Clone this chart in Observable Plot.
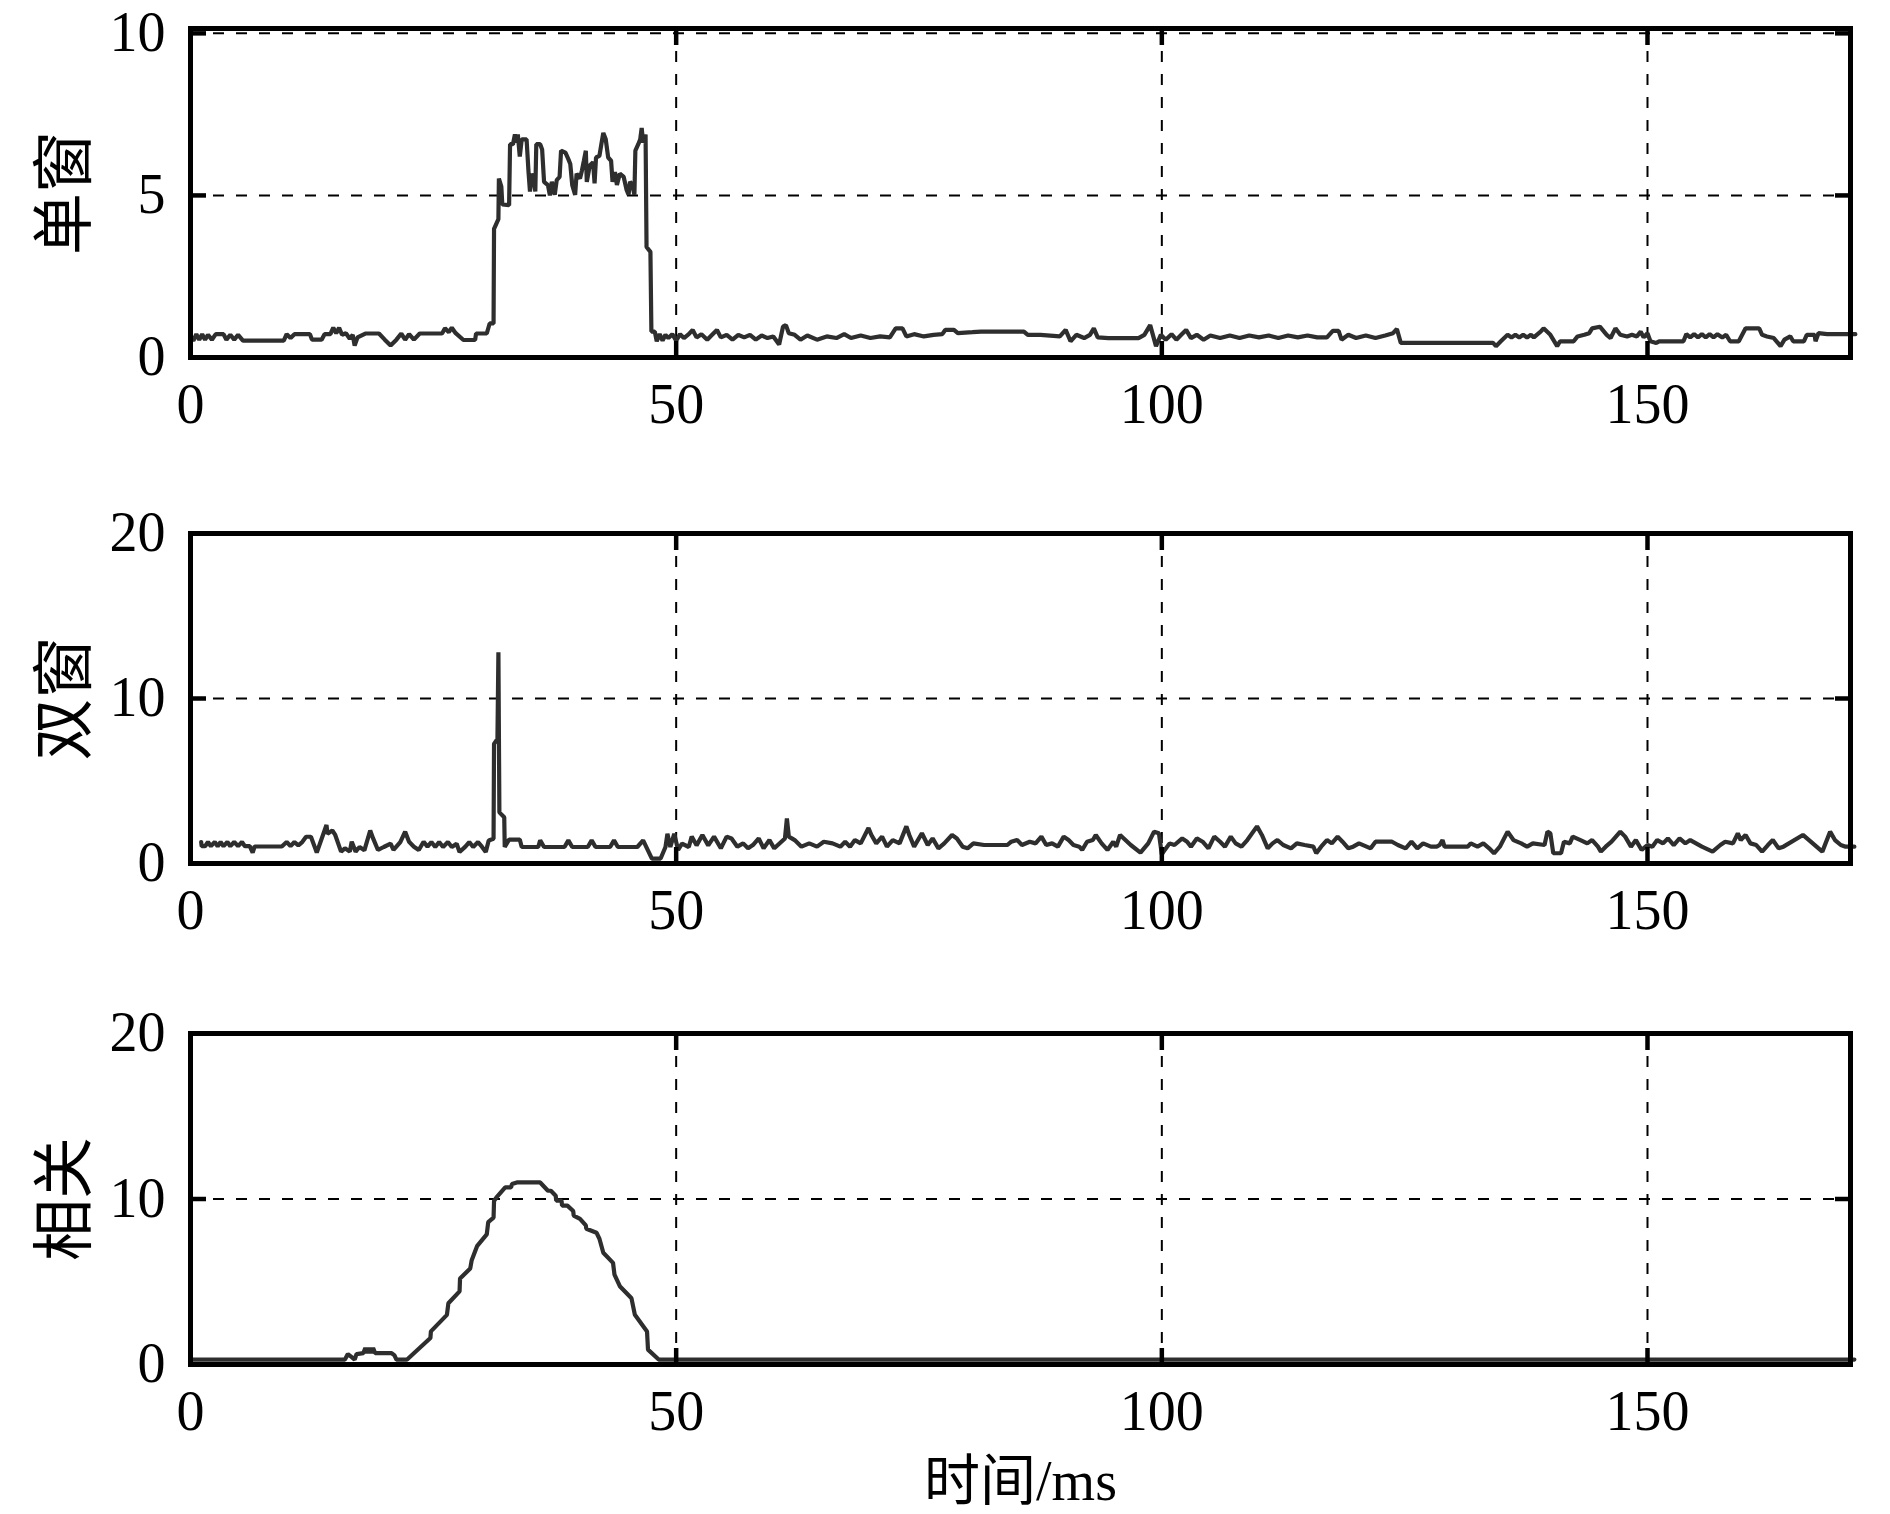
<!DOCTYPE html>
<html><head><meta charset="utf-8">
<script src="https://cdn.jsdelivr.net/npm/d3@7"></script>
<script src="https://cdn.jsdelivr.net/npm/@observablehq/plot@0.6"></script>
<style>
body{margin:0;background:#fff;}
#wrap{position:relative;width:1890px;height:1514px;background:#fff;}
#wrap svg{position:absolute;left:0;}
</style></head><body><div id="wrap"></div>
<script>
// ---- tick labels / axes ----
const xTicks = [0, 50, 100, 150];
const yTicks1 = [0, 5, 10];
const yTicks23 = [0, 10, 20];
const yLabels = ["单窗", "双窗", "相关"];
const xTitle = "时间/ms";

// ---- 单窗 (time ms, value) ----
const danT = [0,0.3,0.6,0.9,1.2,1.5,1.8,2.2,2.6,3.4,3.7,4.1,4.5,4.9,5.4,9.6,9.9,10.3,10.7,12.3,12.5,13.5,13.8,14.4,14.7,15.0,15.3,15.6,16.0,16.4,16.7,16.9,17.2,18.0,19.4,20.0,20.6,21.2,21.7,22.1,22.5,23.0,23.6,25.9,26.2,26.6,26.9,27.3,28.1,29.3,29.4,30.5,30.8,31.2,31.25,31.7,31.75,32.0,32.1,32.8,32.9,33.2,33.4,33.55,33.7,33.9,34.1,34.6,34.8,34.95,35.1,35.3,35.5,35.6,36.0,36.2,36.4,36.8,37.0,37.2,37.5,37.7,38.0,38.15,38.6,38.9,39.1,39.3,39.6,39.75,40.1,40.3,40.5,40.7,40.8,41.1,41.45,41.6,41.75,42.1,42.3,42.5,42.75,43.0,43.3,43.45,43.7,43.9,44.2,44.6,44.9,45.1,45.25,45.5,45.7,45.8,46.1,46.3,46.45,46.6,46.85,46.95,47.35,47.45,47.8,48.0,48.3,48.6,48.9,49.2,49.6,50.0,50.4,50.8,51.3,51.7,52.1,52.6,53.2,53.7,54.2,54.6,55.2,55.8,56.4,57.0,57.6,58.2,58.8,59.4,60.0,60.6,61.0,61.3,61.6,62.2,62.8,63.5,64.5,65.5,66.5,67.3,68.0,69.0,70.0,71.0,72.0,72.6,73.3,73.7,74.5,75.5,76.5,77.4,77.7,78.6,79.0,80.5,81.4,85.8,86.2,87.5,89.5,90.1,90.6,91.2,92.0,92.6,93.0,93.4,94.5,97.6,98.2,98.8,99.4,99.9,100.4,101.0,101.5,102.0,102.5,103.0,103.6,104.3,105.0,106.0,107.0,108.0,109.0,110.0,111.0,112.0,113.0,114.0,115.0,116.0,117.0,117.6,118.2,118.5,119.2,120.0,121.0,122.0,123.0,123.8,124.2,124.6,134.1,134.4,134.9,135.6,136.0,136.4,136.8,137.2,137.6,138.0,138.3,138.6,139.0,139.3,140.0,140.7,141.0,142.4,142.8,143.5,144.0,144.3,145.1,145.8,146.2,146.7,147.2,147.9,148.4,148.9,149.3,149.6,150.0,150.3,150.9,151.2,153.7,154.0,154.4,154.8,155.2,155.6,156.0,156.4,156.8,157.2,157.7,158.1,158.5,159.4,160.1,161.5,161.8,162.3,163.0,163.7,164.1,164.7,165.0,166.1,166.4,167.2,167.3,167.6,168.5,169.2,171.4];
const danV = [0.62,0.52,0.72,0.55,0.72,0.55,0.70,0.55,0.72,0.72,0.55,0.70,0.55,0.70,0.52,0.52,0.72,0.60,0.72,0.72,0.55,0.55,0.72,0.72,0.92,0.75,0.92,0.70,0.75,0.58,0.70,0.37,0.62,0.74,0.74,0.55,0.37,0.55,0.74,0.55,0.72,0.55,0.74,0.74,0.90,0.78,0.92,0.75,0.54,0.54,0.74,0.74,1.05,1.05,3.97,4.27,5.52,5.27,4.72,4.70,6.58,6.58,6.88,6.63,6.88,6.20,6.73,6.73,5.72,5.12,5.67,5.52,5.12,6.58,6.58,6.42,5.42,5.32,5.00,5.42,5.02,5.47,5.57,6.38,6.32,6.12,5.97,5.32,5.02,5.67,5.52,5.77,6.07,6.38,5.42,5.92,6.02,5.37,6.17,6.22,6.58,6.93,6.73,6.17,6.07,5.42,5.72,5.32,5.67,5.57,5.17,5.02,5.42,5.32,5.02,6.38,6.58,6.73,7.08,6.63,6.88,3.41,3.26,0.80,0.80,0.50,0.72,0.52,0.70,0.60,0.72,0.52,0.72,0.60,0.72,0.85,0.62,0.72,0.55,0.70,0.85,0.62,0.70,0.55,0.70,0.62,0.70,0.55,0.68,0.60,0.65,0.40,0.95,1.00,0.75,0.70,0.55,0.68,0.55,0.65,0.60,0.72,0.60,0.68,0.60,0.65,0.62,0.90,0.90,0.65,0.72,0.65,0.70,0.72,0.85,0.85,0.75,0.78,0.80,0.80,0.70,0.70,0.65,0.85,0.50,0.70,0.60,0.70,0.90,0.62,0.60,0.60,0.70,1.00,0.35,0.70,0.55,0.72,0.55,0.70,0.85,0.60,0.70,0.55,0.68,0.60,0.68,0.60,0.68,0.62,0.68,0.60,0.68,0.62,0.68,0.62,0.62,0.82,0.82,0.55,0.70,0.60,0.68,0.60,0.68,0.75,0.88,0.45,0.45,0.35,0.50,0.70,0.62,0.70,0.62,0.70,0.62,0.70,0.62,0.70,0.80,0.90,0.70,0.35,0.50,0.50,0.65,0.70,0.75,0.90,0.95,0.70,0.60,0.90,0.70,0.65,0.70,0.65,0.80,0.62,0.75,0.50,0.45,0.50,0.50,0.72,0.62,0.72,0.62,0.72,0.62,0.72,0.62,0.72,0.62,0.70,0.50,0.50,0.90,0.90,0.70,0.65,0.60,0.35,0.55,0.65,0.50,0.50,0.70,0.70,0.50,0.75,0.72,0.72,0.72];

// ---- 双窗 ----
const shuangT = [1.1,1.15,1.5,1.8,2.1,2.5,2.8,3.1,3.4,3.8,4.1,4.5,4.9,5.3,5.6,6.1,6.4,6.6,9.4,9.9,10.3,10.7,11.1,11.5,11.9,12.4,13.0,14.0,14.1,14.6,14.9,15.5,15.9,16.4,16.6,17.0,17.4,17.9,18.5,18.8,19.3,19.9,20.6,20.9,21.6,22.1,22.5,23.0,23.5,24.0,24.4,24.8,25.2,25.6,26.0,26.5,26.9,27.4,27.7,28.3,28.7,29.1,29.6,30.0,30.4,30.7,31.2,31.25,31.6,31.7,31.8,32.3,32.35,32.8,33.9,34.1,35.8,36.0,36.4,38.5,38.9,39.3,40.9,41.3,41.7,43.2,43.6,44.0,46.0,46.6,47.5,48.4,48.9,49.1,49.4,49.8,50.2,50.6,51.3,51.6,52.1,52.7,53.3,53.9,54.6,55.2,55.7,56.3,56.9,57.4,57.9,58.5,59.0,59.6,60.1,61.2,61.4,61.6,62.2,62.9,63.7,64.5,65.2,66.1,66.9,67.4,67.9,68.4,69.0,69.8,70.1,70.6,71.2,71.7,72.3,73.0,73.7,74.0,74.5,75.3,75.9,76.4,77.0,77.6,78.4,78.9,79.5,80.0,80.6,81.7,84.1,84.5,85.1,85.6,86.4,87.0,87.6,88.1,88.7,89.3,89.9,90.4,90.9,91.5,91.8,92.3,92.9,93.2,93.8,94.4,95.0,95.3,95.7,96.8,97.8,98.6,99.2,99.7,100.0,100.3,100.8,101.3,102.1,102.6,103.0,103.6,104.2,104.8,105.4,106.0,106.5,107.1,107.6,108.2,108.8,109.8,110.3,110.9,111.4,111.9,112.5,113.3,113.9,114.7,115.6,115.9,116.4,117.0,117.5,118.1,118.6,119.2,119.7,120.3,121.5,122.0,123.7,124.3,125.1,125.7,126.3,126.9,127.7,128.3,128.6,128.9,129.1,131.5,131.8,132.5,133.1,133.7,134.2,134.8,135.6,136.2,137.0,137.6,138.2,139.4,139.7,140.0,140.3,141.1,141.4,142.0,142.3,143.1,143.8,144.3,144.9,145.2,145.7,146.3,147.2,147.7,148.3,148.8,149.4,150.0,150.5,151.0,151.6,152.1,152.7,153.3,153.9,154.4,155.6,156.7,157.5,158.0,158.8,159.3,159.6,160.1,160.6,161.2,161.8,162.4,162.9,163.5,164.0,166.0,168.0,168.8,169.3,169.9,170.4,171.3];
const shuangV = [1.30,1.05,1.05,1.30,1.05,1.30,1.05,1.30,1.05,1.30,1.05,1.30,1.05,1.30,1.05,1.05,0.66,1.03,1.03,1.30,1.05,1.30,1.10,1.30,1.62,1.62,0.66,2.33,1.80,2.00,1.73,0.72,0.92,0.72,1.32,0.72,1.00,0.80,2.00,1.52,0.82,1.00,1.20,0.82,1.30,1.93,1.32,1.02,0.82,1.32,1.02,1.30,1.00,1.30,1.00,1.30,1.00,1.20,0.70,1.02,1.30,1.00,1.30,1.02,0.70,1.40,1.50,7.25,7.55,12.80,3.10,2.80,1.00,1.45,1.45,1.00,1.00,1.40,1.00,1.00,1.40,1.00,1.00,1.40,1.00,1.00,1.40,1.00,1.00,1.40,0.30,0.30,1.00,1.80,1.00,1.80,0.82,1.20,1.00,1.63,1.10,1.73,1.10,1.63,0.92,1.63,1.52,1.02,1.22,0.92,1.12,1.52,0.92,1.42,0.92,1.52,2.73,1.63,1.42,1.02,1.22,1.02,1.32,1.22,1.02,1.32,1.02,1.42,1.22,2.15,1.73,1.22,1.63,1.02,1.42,1.22,2.25,1.73,1.02,1.83,1.12,1.52,0.92,1.22,1.73,1.52,1.02,0.92,1.22,1.12,1.12,1.32,1.43,1.12,1.32,1.22,1.63,1.12,1.22,1.02,1.63,1.42,1.12,1.02,0.82,1.32,1.42,1.73,1.22,0.82,1.32,1.02,1.73,1.12,0.66,1.22,1.93,1.83,0.55,0.82,1.22,1.12,1.52,1.32,1.02,1.52,1.32,0.92,1.63,1.32,1.02,1.63,1.22,1.02,1.42,2.25,1.73,0.92,1.22,1.42,1.12,0.92,1.22,1.12,1.02,0.62,1.02,1.42,1.22,1.63,1.32,0.92,1.02,1.22,0.92,1.32,1.32,1.12,0.92,1.32,0.92,1.22,1.02,1.02,1.12,1.42,1.02,1.02,1.22,1.02,1.22,0.92,0.62,1.02,1.93,1.42,1.22,1.02,1.22,1.12,1.93,1.83,0.62,0.62,1.32,1.22,1.63,1.42,1.22,1.42,1.02,0.72,1.02,1.32,1.93,1.63,1.02,1.42,0.82,1.12,1.02,1.42,1.22,1.52,1.12,1.52,1.22,1.42,1.02,0.72,1.12,1.32,1.22,1.83,1.42,1.73,1.22,1.12,0.72,1.12,1.42,0.92,1.02,1.73,0.72,1.93,1.42,1.12,1.02,1.02];

// ---- 相关 ----
const xiangT = [0,15.9,16.2,16.6,16.9,17.1,17.8,18.0,18.2,18.4,18.6,18.8,19.0,20.7,21.0,21.2,22.3,24.7,24.75,26.4,26.55,27.7,27.75,28.8,28.95,29.5,30.5,30.65,31.2,31.25,31.5,32.4,33.0,33.1,33.6,36.0,36.8,37.1,37.6,37.65,38.2,38.25,38.8,39.4,39.45,40.1,40.7,40.75,41.8,42.1,42.5,43.5,43.65,44.2,45.4,45.75,47.0,47.1,48.2,171.3];
const xiangV = [0.30,0.30,0.63,0.45,0.30,0.63,0.69,1.00,0.69,1.00,0.69,1.00,0.69,0.69,0.55,0.30,0.30,1.60,2.00,3.00,3.70,4.42,5.20,5.80,6.30,7.15,7.86,8.60,8.87,9.88,10.10,10.70,10.70,10.90,11.00,11.00,10.50,10.50,10.20,9.90,9.90,9.60,9.60,9.27,9.00,8.80,8.40,8.20,7.96,7.60,6.75,6.14,5.43,4.73,4.00,3.00,2.00,0.90,0.30,0.30];

const zip = (T, V) => T.map((t, i) => ({t, v: V[i]}));

const serif = "'Liberation Serif','Times New Roman',serif";
const cjk = "'Noto Sans CJK SC','Liberation Serif',sans-serif";
const xDomain = [0, 170.9];

function panel({data, yDomain, yTicks, label, top, height, mt, mb, title}) {
  const grid = {stroke: "black", strokeOpacity: 1, strokeWidth: 2, strokeDasharray: "11,12"};
  const tk = {tickFormat: () => "", label: null, tickSize: 16, strokeWidth: 4.5, stroke: "black", strokeOpacity: 1};
  const marks = [
    Plot.gridX(xTicks.filter(d => d > 0), grid),
    Plot.gridY(yTicks.filter(d => d > 0 && d < yDomain[1] - 0.1), grid),
    Plot.line(data, {x: "t", y: "v", stroke: "#2e2e2e", strokeWidth: 4.2, strokeLinejoin: "miter"}),
    Plot.frame({stroke: "black", strokeWidth: 5}),
    Plot.axisX(xTicks, {...tk, anchor: "bottom", dy: -16}),
    Plot.axisX(xTicks, {...tk, anchor: "top", dy: 16}),
    Plot.axisY(yTicks, {...tk, anchor: "left", dx: 16}),
    Plot.axisY(yTicks, {...tk, anchor: "right", dx: -16}),
    Plot.axisX(xTicks, {anchor: "bottom", tickSize: 0, tickPadding: 26, fontSize: 56, fontFamily: serif, label: null, fill: "black"}),
    Plot.axisY(yTicks, {anchor: "left", tickSize: 0, tickPadding: 25, fontSize: 56, fontFamily: serif, label: null, fill: "black"}),
    Plot.text([label], {frameAnchor: "left", dx: -124, rotate: -90, textAnchor: "middle", lineAnchor: "middle", fontSize: 62, fontFamily: cjk, fill: "black"})
  ];
  if (title) marks.push(Plot.text([title], {frameAnchor: "bottom", dy: 118, textAnchor: "middle", lineAnchor: "middle", fontSize: 56, fontFamily: serif + ",'Noto Sans CJK SC'", fill: "black"}));
  const svg = Plot.plot({
    width: 1890, height,
    marginLeft: 190, marginRight: 40, marginTop: mt, marginBottom: mb,
    x: {domain: xDomain},
    y: {domain: yDomain},
    style: {background: "white", color: "black", overflow: "visible"},
    marks
  });
  svg.style.top = top + "px";
  document.getElementById("wrap").appendChild(svg);
}

panel({data: zip(danT, danV), yDomain: [0, 10.15], yTicks: yTicks1, label: yLabels[0], top: 0, height: 440, mt: 28, mb: 83});
panel({data: zip(shuangT, shuangV), yDomain: [0, 20], yTicks: yTicks23, label: yLabels[1], top: 440, height: 510, mt: 93, mb: 87});
panel({data: zip(xiangT, xiangV), yDomain: [0, 20], yTicks: yTicks23, label: yLabels[2], top: 950, height: 564, mt: 83, mb: 150, title: xTitle});
</script></body></html>
